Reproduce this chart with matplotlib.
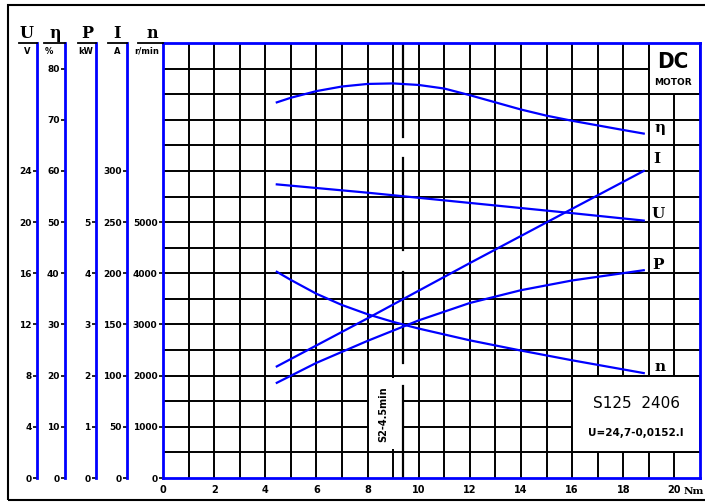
import matplotlib
matplotlib.use("Agg")
import matplotlib.pyplot as plt
from matplotlib.patches import Rectangle
from matplotlib.lines import Line2D

# --- data ---
eta_torque = [4.45, 5, 6, 7, 8, 9, 10, 11, 12, 13, 14, 15, 16, 17, 18, 18.8]
eta_vals = [73.4, 74.3, 75.6, 76.5, 77.0, 77.1, 76.8, 76.1, 74.8, 73.4, 72.0, 70.8, 69.8, 68.9, 68.0, 67.3]

u_torque = [4.45, 8, 12, 16, 18.8]
u_vals = [22.95, 22.3, 21.5, 20.7, 20.12]

i_torque = [4.45, 8, 12, 16, 18.8]
i_vals = [109, 156, 210, 263, 300]

p_torque = [4.45, 6, 8, 10, 12, 14, 16, 18.8]
p_vals = [1.86, 2.25, 2.68, 3.08, 3.42, 3.67, 3.86, 4.06]

n_torque = [4.45, 5, 6, 7, 8, 9, 10, 12, 14, 16, 18.8]
n_vals = [4030, 3870, 3600, 3380, 3200, 3050, 2920, 2690, 2490, 2300, 2050]

u_ticks = [0, 4, 8, 12, 16, 20, 24]
eta_ticks = [0, 10, 20, 30, 40, 50, 60, 70, 80]
p_ticks = [0, 1, 2, 3, 4, 5]
i_ticks = [0, 50, 100, 150, 200, 250, 300]
n_ticks = [0, 1000, 2000, 3000, 4000, 5000]
x_ticks = [0, 2, 4, 6, 8, 10, 12, 14, 16, 18, 20]

BLUE = '#0000ff'
W, H = 705, 504

fig = plt.figure(figsize=(W / 100, H / 100), dpi=100)
fig.patch.set_facecolor('white')

def fx(px):
    return px / W

def fy(py):
    return 1 - py / H

left, right, top, bottom = 163, 700, 43, 478
ax = fig.add_axes([fx(left), fy(bottom), (right - left) / W, (bottom - top) / H])
ax.set_xlim(0, 21)
ax.set_ylim(0, 8500)

# grid
for xv in range(1, 21):
    ax.plot([xv, xv], [0, 8500], color='black', lw=1.4, zorder=1)
for yv in range(500, 8500, 500):
    ax.plot([0, 21], [yv, yv], color='black', lw=1.4, zorder=1)

# boxes
ax.add_patch(Rectangle((19, 7500), 2, 1000, facecolor='white', edgecolor='black', lw=1.4, zorder=2))
ax.add_patch(Rectangle((16, 500), 5, 1500, facecolor='white', edgecolor='black', lw=1.4, zorder=2))
ax.add_patch(Rectangle((8.05, 560), 1.32, 1390, facecolor='white', edgecolor='none', zorder=2))

# S2 marker line
for y0, y1 in [(0, 1800), (2250, 4020), (4450, 6250), (6660, 8500)]:
    ax.plot([9.4, 9.4], [y0, y1], color='black', lw=1.6, zorder=2)
ax.text(8.62, 1250, 'S2-4.5min', rotation=90, ha='center', va='center',
        fontsize=7, fontweight='bold', zorder=4)

# texts in boxes
ax.text(18.5, 1450, 'S125  2406', ha='center', va='center', fontsize=11, zorder=4)
ax.text(18.5, 870, 'U=24,7-0,0152.I', ha='center', va='center', fontsize=7.5,
        fontweight='bold', zorder=4)
ax.text(19.95, 8120, 'DC', ha='center', va='center', fontsize=16, fontweight='heavy',
        fontstretch='condensed', zorder=4)
ax.text(19.95, 7730, 'MOTOR', ha='center', va='center', fontsize=6.5, fontweight='heavy', zorder=4)

# curves, each on its own scale
def curve_axis(ymax):
    t = ax.twinx()
    t.set_ylim(0, ymax)
    t.axis('off')
    return t

curve_axis(85).plot(eta_torque, eta_vals, color=BLUE, lw=1.6, zorder=3)
curve_axis(34).plot(u_torque, u_vals, color=BLUE, lw=1.6, zorder=3)
curve_axis(425).plot(i_torque, i_vals, color=BLUE, lw=1.6, zorder=3)
curve_axis(8.5).plot(p_torque, p_vals, color=BLUE, lw=1.6, zorder=3)
ax.plot(n_torque, n_vals, color=BLUE, lw=1.6, zorder=3)

lab = dict(fontsize=11, family='DejaVu Serif', fontweight='bold', ha='center', va='center', zorder=4)
ax.text(19.45, 6840, 'η', **lab)
ax.text(19.3, 6230, 'I', **lab)
ax.text(19.35, 5150, 'U', **lab)
ax.text(19.35, 4170, 'P', **lab)
ax.text(19.45, 2160, 'n', **lab)

for s in ax.spines.values():
    s.set_color(BLUE)
    s.set_linewidth(2)
    s.set_zorder(5)
ax.set_yticks(n_ticks)
ax.set_yticklabels([str(v) for v in n_ticks])
ax.set_xticks(x_ticks)
ax.tick_params(axis='y', length=3, width=1.2, color='black', pad=1, labelsize=6.5)
ax.tick_params(axis='x', length=0, pad=5, labelsize=7)
for t in ax.get_xticklabels() + ax.get_yticklabels():
    t.set_fontweight('bold')

# left scales
def scale_axis(px, ymax, ticks):
    a = fig.add_axes([fx(px), fy(bottom), 0.0001, (bottom - top) / H])
    a.set_ylim(0, ymax)
    a.set_xticks([])
    for k in ['top', 'bottom', 'right']:
        a.spines[k].set_visible(False)
    a.spines['left'].set_color(BLUE)
    a.spines['left'].set_linewidth(2)
    a.set_yticks(ticks)
    a.set_yticklabels([str(v) for v in ticks])
    a.tick_params(axis='y', length=3, width=1.2, color='black', pad=1, labelsize=6.5)
    for t in a.get_yticklabels():
        t.set_fontweight('bold')
    a.patch.set_visible(False)
    return a

scale_axis(37, 34, u_ticks)
scale_axis(65, 85, eta_ticks)
scale_axis(96, 8.5, p_ticks)
scale_axis(127, 425, i_ticks)

# headers
headers = [('U', 27, 'V', 27, 19, 37), ('η', 55, '%', 49, 44, 65),
           ('P', 87, 'kW', 86, 78, 96), ('I', 117, 'A', 117, 108, 127),
           ('n', 152, 'r/min', 147, 138, 163)]
for sym, sx, unit, ux, l0, l1 in headers:
    fig.text(fx(sx), fy(33), sym, ha='center', va='center', fontsize=11.5,
             family='DejaVu Serif', fontweight='bold')
    fig.text(fx(ux), fy(51), unit, ha='center', va='center', fontsize=6, fontweight='bold')
    fig.add_artist(Line2D([fx(l0), fx(l1)], [fy(43), fy(43)], color='black', lw=1.3))

fig.text(fx(684), fy(491), 'Nm', ha='left', va='center', fontsize=7.5,
         family='DejaVu Serif', fontweight='bold')

# outer frame
fig.add_artist(Rectangle((fx(8), fy(500)), 1.2, (500 - 5) / H, transform=fig.transFigure,
                         facecolor='none', edgecolor='black', lw=1.5))

fig.savefig('out.png', dpi=100)
